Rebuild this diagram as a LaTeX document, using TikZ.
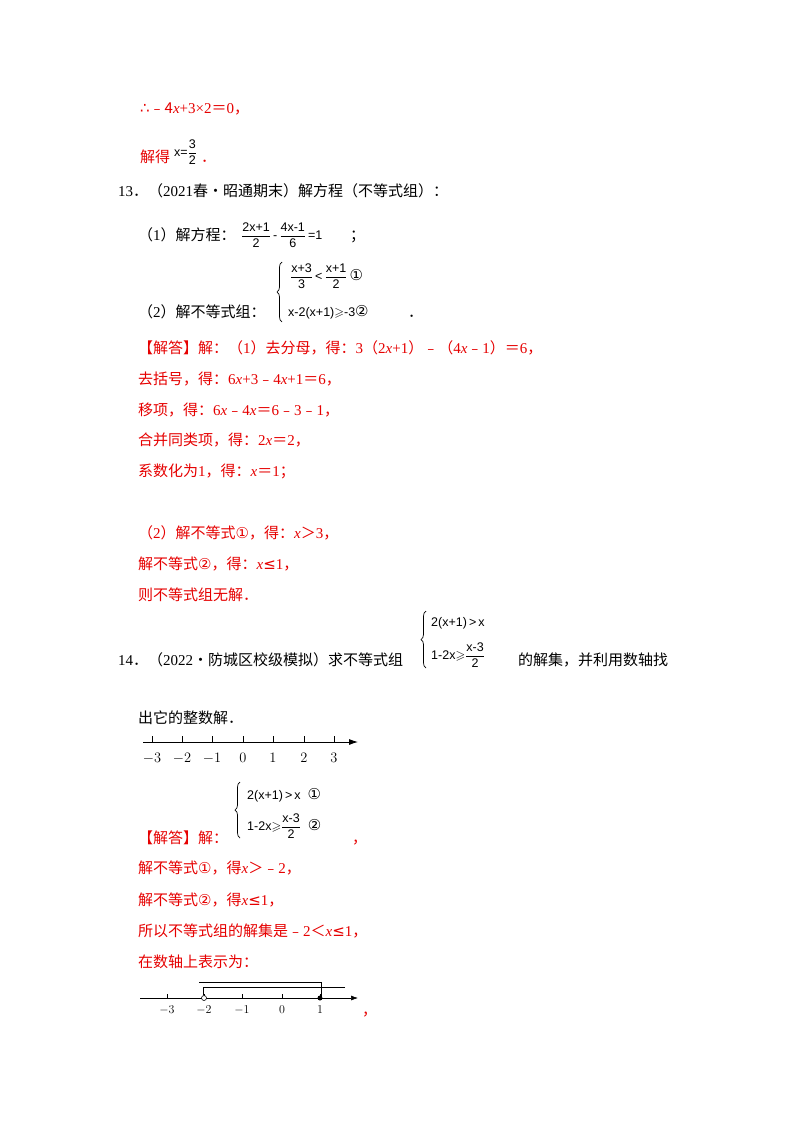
\documentclass[tikz,border=0pt]{standalone}
\usepackage{amsmath,amssymb}
\usepackage{fontspec}
\setmainfont{Noto Sans CJK SC}
\newfontfamily\tms{Liberation Serif}
\newfontfamily\ars{Liberation Sans}
\newfontfamily\djv{DejaVu Sans}
\usetikzlibrary{arrows.meta,decorations.pathreplacing}
\newcommand{\xv}{{\tms\itshape x}}
\newcommand{\fr}[2]{$\genfrac{}{}{0.6pt}{0}{\text{#1}}{\text{#2}}$}
\definecolor{rd}{RGB}{230,0,0}
\begin{document}
\begin{tikzpicture}[x=1pt,y=-1pt,
  t/.style={anchor=base west,inner sep=0pt,font=\fontsize{15}{17}\selectfont},
  r/.style={t,text=rd},
  f/.style={inner sep=0pt,anchor=west,font=\ars\fontsize{12.5}{14}\selectfont},
  brc/.style={decorate,decoration={brace,amplitude=5pt},line width=0.7pt},
  ax/.style={line width=0.8pt},
  tk/.style={line width=0.8pt}]
\useasboundingbox[fill=white] (0,0) rectangle (800,1132);
\node[r] (l1) at (140,113) {{\djv ∴}﹣4\xv{\tms+3×2}＝{\tms 0}，};
\node[r] (l2) at (140,162) {解得};
\node[f] (l2f) at (174,152) {x=\fr{3}{2}};
\node[r] (l2e) at (201,162) {．};
\node[t] (q13) at (118,196) {{\tms 13}．（{\tms 2021}春•昭通期末）解方程（不等式组）：};
\node[t] (q1) at (138,240) {（{\tms 1}）解方程：};
\node[f] (q1f) at (241,235) {\fr{2x+1}{2}\,-\,\fr{4x-1}{6}\,=1};
\node[t] (q1e) at (350,240) {；};
\node[t] (q2) at (138,317) {（{\tms 2}）解不等式组：};
\coordinate (b1t) at (282,262); \coordinate (b1b) at (282,322);
\draw[brc] (b1b) -- (b1t);
\node[f] (s1a) at (290,276) {\fr{x+3}{3}\,<\,\fr{x+1}{2}\,{\djv\fontsize{15}{15}\selectfont ①}};
\node[f] (s1b) at (288,312) {x-2(x+1)$\geqslant$-3{\djv\fontsize{15}{15}\selectfont ②}};
\node[t] (q2e) at (408,317) {．};
\node[r] (a1) at (138,353) {【解答】解：（{\tms 1}）去分母，得：{\tms 3}（{\tms 2}\xv{\tms +1}）﹣（{\tms 4}\xv﹣{\tms 1}）＝{\tms 6}，};
\node[r] (a2) at (138,384) {去括号，得：{\tms 6}\xv{\tms +3}﹣{\tms 4}\xv{\tms +1}＝{\tms 6}，};
\node[r] (a3) at (138,415) {移项，得：{\tms 6}\xv﹣{\tms 4}\xv＝{\tms 6}﹣{\tms 3}﹣{\tms 1}，};
\node[r] (a4) at (138,445) {合并同类项，得：{\tms 2}\xv＝{\tms 2}，};
\node[r] (a5) at (138,476) {系数化为{\tms 1}，得：\xv＝{\tms 1}；};
\node[r] (a6) at (138,538) {（{\tms 2}）解不等式{\djv ①}，得：\xv＞{\tms 3}，};
\node[r] (a7) at (138,569) {解不等式{\djv ②}，得：\xv{\djv ≤}{\tms 1}，};
\node[r] (a8) at (138,600) {则不等式组无解．};
\node[t] (q14) at (118,665) {{\tms 14}．（{\tms 2022}•防城区校级模拟）求不等式组};
\coordinate (b2t) at (426,611); \coordinate (b2b) at (426,668);
\draw[brc] (b2b) -- (b2t);
\node[f] (s2a) at (431,623) {2(x+1)\,>\,x};
\node[f] (s2b) at (431,655) {1-2x$\geqslant$\fr{x-3}{2}};
\node[t] (q14b) at (518,665) {的解集，并利用数轴找};
\node[t] (q14c) at (138,723) {出它的整数解．};
% number line 1
\coordinate (n1s) at (143,742); \coordinate (n1e) at (358,742);
\draw[ax,-{Latex[length=9pt,width=6pt]}] (n1s) -- (n1e);
\foreach \v/\p in {-3/152,-2/182,-1/212,0/243,1/273,2/304,3/334}{
  \draw[tk] (\p,742) -- (\p,736);
  \node[inner sep=0pt,font=\fontsize{15}{16}\selectfont] at (\p,758) {$\v$};}
% system 3
\coordinate (b3t) at (240,782); \coordinate (b3b) at (240,838);
\draw[brc] (b3b) -- (b3t);
\node[f] (s3a) at (247,795) {2(x+1)\,>\,x\ \ {\djv\fontsize{15}{15}\selectfont ①}};
\node[f] (s3b) at (247,826) {1-2x$\geqslant$\fr{x-3}{2}\ \ {\djv\fontsize{15}{15}\selectfont ②}};
\node[r] (b0) at (138,843) {【解答】解：};
\node[r] (b0e) at (352,843) {，};
\node[r] (b1) at (138,873) {解不等式{\djv ①}，得\xv＞﹣{\tms 2}，};
\node[r] (b2) at (138,905) {解不等式{\djv ②}，得\xv{\djv ≤}{\tms 1}，};
\node[r] (b3) at (138,936) {所以不等式组的解集是﹣{\tms 2}＜\xv{\djv ≤}{\tms 1}，};
\node[r] (b4) at (138,967) {在数轴上表示为：};
% number line 2
\coordinate (n2s) at (140,998); \coordinate (n2e) at (358,998);
\draw[line width=0.6pt,-{Latex[length=7pt,width=5pt]}] (n2s) -- (n2e);
\foreach \v/\p in {-3/167,-2/204,-1/242,0/282,1/320}{
  \draw[line width=0.6pt] (\p,998) -- (\p,994);
  \node[inner sep=0pt,font=\fontsize{13}{14}\selectfont] at (\p,1010) {$\v$};}
\draw[line width=0.8pt] (199,982) -- (321,982) -- (321,998);
\draw[line width=0.6pt] (345,987) -- (203,987) -- (203,995);
\draw[line width=0.6pt,fill=white] (204,998) circle (2.5);
\fill (320,998) circle (2.5);
\node[r] (b5) at (362,1015) {，};
\end{tikzpicture}
\end{document}
